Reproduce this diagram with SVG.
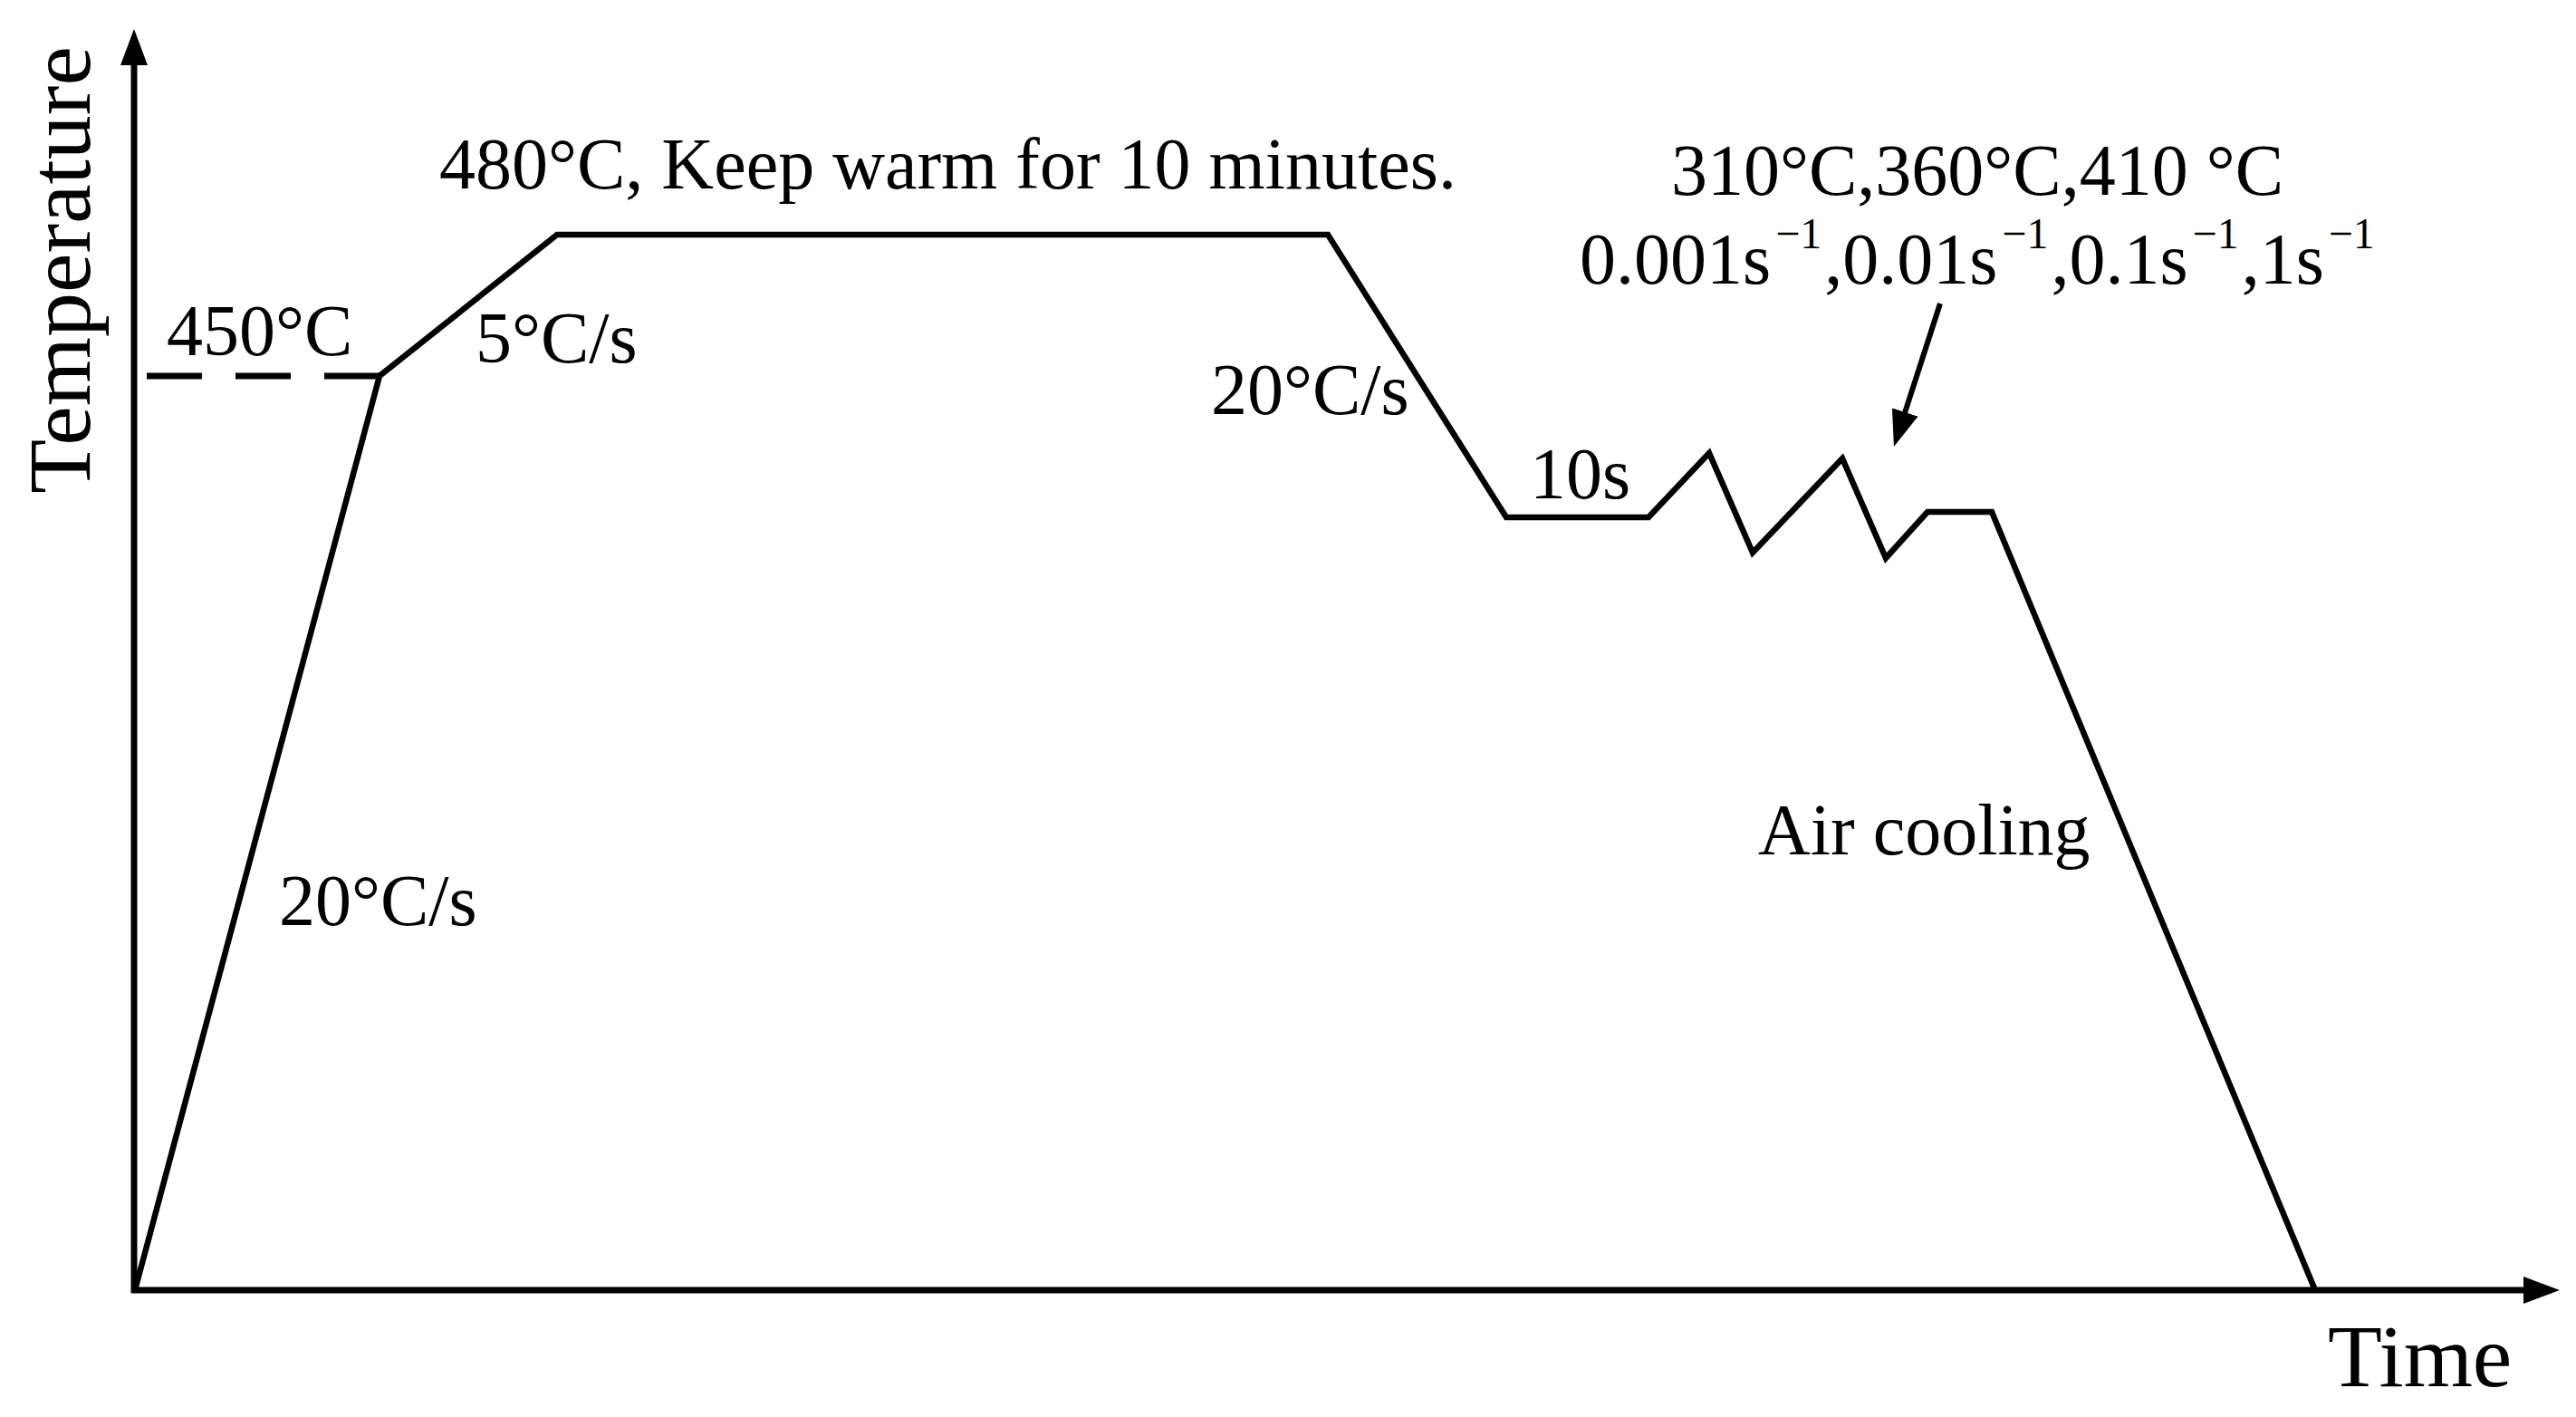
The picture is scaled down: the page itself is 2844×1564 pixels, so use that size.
<svg xmlns="http://www.w3.org/2000/svg" width="2844" height="1564" viewBox="0 0 2844 1564">
<style>
text{font-family:"Liberation Serif","Times New Roman",serif;fill:#000;font-size:80px}
.big{font-size:98px}
.ax{stroke:#000;stroke-width:7;fill:none}
.cv{stroke:#000;stroke-width:6.5;fill:none;stroke-linejoin:miter;stroke-miterlimit:10}
.sup{font-size:48px}
</style>
<defs>
<marker id="ah" viewBox="0 0 40 30" refX="5" refY="15" markerWidth="40" markerHeight="30" markerUnits="userSpaceOnUse" orient="auto">
<path d="M0,0 L40,15 L0,30 z" fill="#000"/>
</marker>
</defs>
<rect width="2844" height="1564" fill="#fff"/>
<g id="axes">
<line class="ax" x1="148" y1="1427" x2="148" y2="67" marker-end="url(#ah)"/>
<line class="ax" x1="145" y1="1424" x2="2791" y2="1424" marker-end="url(#ah)"/>
<text class="big" transform="translate(99,298) rotate(-90)" text-anchor="middle">Temperature</text>
<text class="big" x="2570" y="1530">Time</text>
</g>
<g id="connectors">
<line x1="162" y1="415" x2="419" y2="415" stroke="#000" stroke-width="7" stroke-dasharray="61 37"/>
<polyline class="cv" points="149,1424 419,415 615,259 1466,259 1663,571 1820,571 1887,500 1935,610 2034,506 2082,616 2128,565 2199,565 2556,1424"/>
<line x1="2142" y1="335" x2="2101.7" y2="459.7" stroke="#000" stroke-width="6" marker-end="url(#ah)"/>
</g>
<g id="labels">
<text x="184" y="392">450°C</text>
<text x="525" y="400">5°C/s</text>
<text x="485" y="208">480°C, Keep warm for 10 minutes.</text>
<text x="1337" y="457">20°C/s</text>
<text x="308" y="1021">20°C/s</text>
<text x="1689" y="550">10s</text>
<text x="1941" y="943">Air cooling</text>
<text x="1845" y="215">310°C,360°C,410 °C</text>
<text x="1744" y="313">0.001s<tspan class="sup" dx="5" dy="-39">−1</tspan><tspan dx="3" dy="39">,0.01s</tspan><tspan class="sup" dx="5" dy="-39">−1</tspan><tspan dx="3" dy="39">,0.1s</tspan><tspan class="sup" dx="5" dy="-39">−1</tspan><tspan dx="3" dy="39">,1s</tspan><tspan class="sup" dx="5" dy="-39">−1</tspan></text>
</g>
</svg>
